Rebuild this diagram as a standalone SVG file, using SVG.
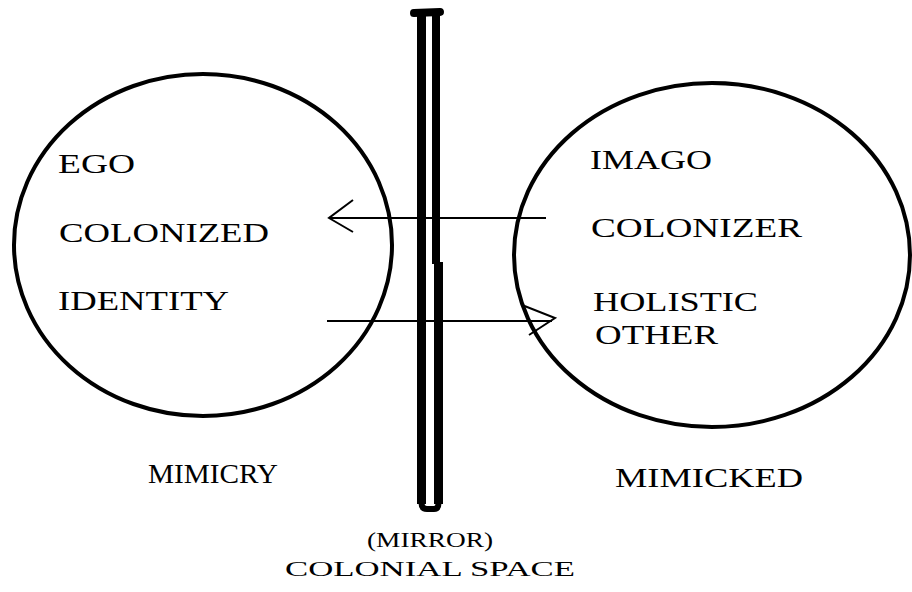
<svg xmlns="http://www.w3.org/2000/svg" width="912" height="592" viewBox="0 0 912 592">
<style>
text{fill:#000}
.c{fill:none;stroke:#000;stroke-width:4}
.l{fill:none;stroke:#000;stroke-width:2}
.b{stroke:#000;fill:none}
</style>
<rect width="912" height="592" fill="#fff"/>
<g id="mirror">
<line class="b" x1="421.5" y1="13" x2="421.5" y2="504" stroke-width="9"/>
<line class="b" x1="436" y1="13" x2="436" y2="264" stroke-width="8"/>
<line class="b" x1="438.5" y1="262" x2="438.5" y2="504" stroke-width="9"/>
<path class="b" d="M421.5 503 Q421.5 509 427 509 L434 509 Q438.5 509 438.5 503" stroke-width="6"/>
<path class="b" d="M414 13 L440 12" stroke-width="8" stroke-linecap="round"/>
</g>
<g font-family="Liberation Serif, Times New Roman, Times, serif" font-size="27">
<g id="left-circle">
<ellipse class="c" cx="203" cy="245" rx="189" ry="171"/>
<text x="58" y="173" textLength="77" lengthAdjust="spacingAndGlyphs">EGO</text>
<text x="59" y="242" textLength="210" lengthAdjust="spacingAndGlyphs">COLONIZED</text>
<text x="58" y="310" textLength="171" lengthAdjust="spacingAndGlyphs">IDENTITY</text>
</g>
<g id="right-circle">
<ellipse class="c" cx="712" cy="255" rx="198" ry="172"/>
<text x="590" y="169" textLength="122" lengthAdjust="spacingAndGlyphs">IMAGO</text>
<text x="591" y="237" textLength="211" lengthAdjust="spacingAndGlyphs">COLONIZER</text>
<text x="593" y="311" textLength="165" lengthAdjust="spacingAndGlyphs">HOLISTIC</text>
<text x="595" y="344" textLength="123" lengthAdjust="spacingAndGlyphs">OTHER</text>
</g>
<g id="labels">
<text x="148" y="483" textLength="130" lengthAdjust="spacingAndGlyphs">MIMICRY</text>
<text x="615" y="487" textLength="188" lengthAdjust="spacingAndGlyphs">MIMICKED</text>
<text x="367" y="547" font-size="20" textLength="126" lengthAdjust="spacingAndGlyphs">(MIRROR)</text>
<text x="285" y="576" font-size="20" textLength="290" lengthAdjust="spacingAndGlyphs">COLONIAL SPACE</text>
</g>
</g>
<g id="connectors">
<path class="l" d="M546 218 L329 218 M353 200 L329 218 L353 232"/>
<path class="l" d="M327 321 L552 321 M522 305 L555 318 L529 335"/>
</g>
</svg>
